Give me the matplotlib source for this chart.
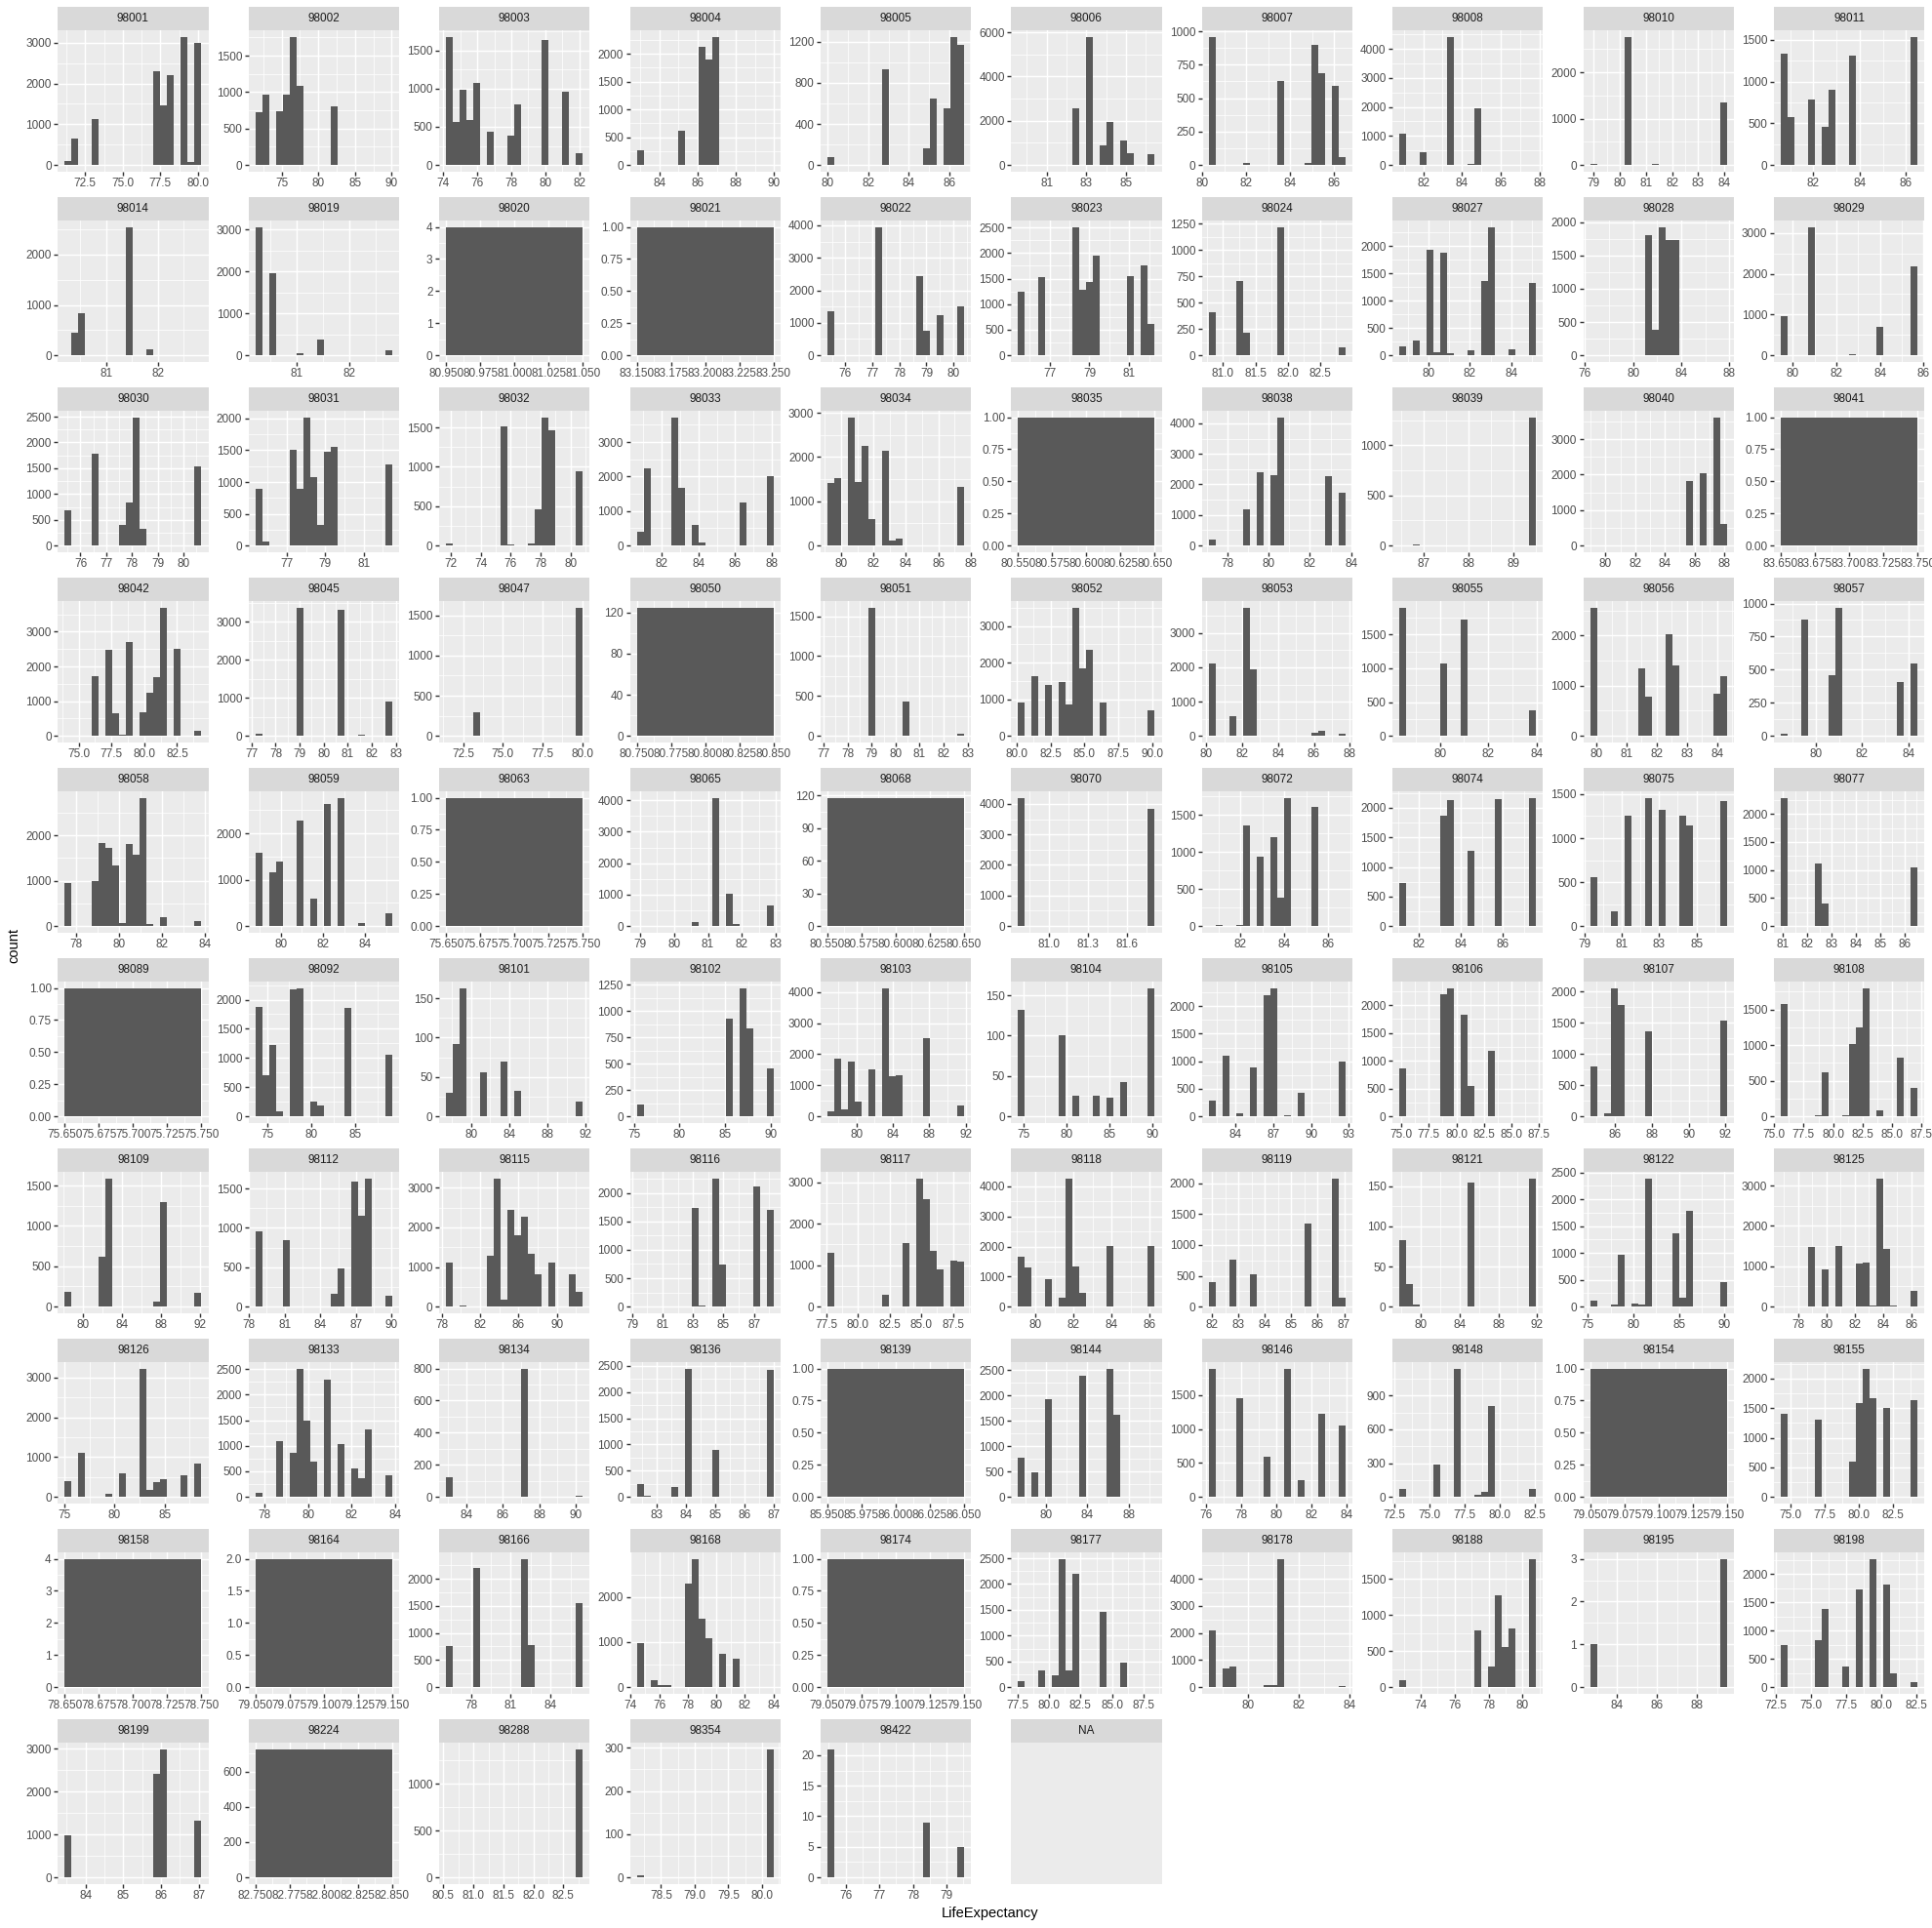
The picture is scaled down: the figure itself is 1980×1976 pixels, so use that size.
import numpy as np
import matplotlib.pyplot as plt

plt.rcParams['font.family'] = ['Liberation Sans', 'DejaVu Sans']

zipcodes = ['98001', '98002', '98003', '98004', '98005', '98006', '98007', '98008', '98010', '98011',
            '98014', '98019', '98020', '98021', '98022', '98023', '98024', '98027', '98028', '98029',
            '98030', '98031', '98032', '98033', '98034', '98035', '98038', '98039', '98040', '98041',
            '98042', '98045', '98047', '98050', '98051', '98052', '98053', '98055', '98056', '98057',
            '98058', '98059', '98063', '98065', '98068', '98070', '98072', '98074', '98075', '98077',
            '98089', '98092', '98101', '98102', '98103', '98104', '98105', '98106', '98107', '98108',
            '98109', '98112', '98115', '98116', '98117', '98118', '98119', '98121', '98122', '98125',
            '98126', '98133', '98134', '98136', '98139', '98144', '98146', '98148', '98154', '98155',
            '98158', '98164', '98166', '98168', '98174', '98177', '98178', '98188', '98195', '98198',
            '98199', '98224', '98288', '98354', '98422', 'NA']

# life expectancy values (one per histogram bar) and the number of houses at each
life_exp = [
    [71.37, 71.82, 73.19, 77.27, 77.73, 78.18, 79.09, 79.55, 80.0],
    [71.9, 72.83, 74.69, 75.63, 76.56, 77.49, 82.15, 89.6],
    [74.36, 74.76, 75.16, 75.57, 75.97, 76.77, 77.98, 78.38, 79.99, 81.2, 82.0],
    [82.98, 85.13, 86.21, 86.57, 86.93, 89.8],
    [80.15, 82.85, 84.88, 85.22, 85.89, 86.23, 86.57],
    [79.72, 82.48, 83.17, 83.86, 84.21, 84.9, 85.24, 86.28],
    [80.44, 82.0, 83.55, 84.79, 85.11, 85.42, 86.04, 86.35],
    [80.95, 82.01, 83.41, 84.47, 84.82, 87.64],
    [78.99, 80.3, 81.35, 83.97],
    [80.74, 81.04, 81.92, 82.51, 82.81, 83.69, 86.35],
    [80.26, 80.39, 80.53, 81.45, 81.85, 82.78],
    [80.29, 80.55, 81.06, 81.45, 82.74],
    [81.0],
    [83.2],
    [75.46, 77.23, 78.75, 79.0, 79.51, 80.27],
    [75.58, 76.61, 78.33, 78.68, 79.02, 79.37, 81.09, 81.78, 82.12],
    [80.83, 81.25, 81.36, 81.89, 82.84],
    [78.76, 79.42, 80.08, 80.41, 80.74, 81.07, 82.07, 82.73, 83.06, 84.05, 85.04],
    [76.7, 81.25, 81.82, 82.38, 82.95, 83.52, 87.5],
    [79.6, 80.86, 82.74, 84.0, 85.57],
    [75.52, 76.58, 77.64, 77.91, 78.17, 78.44, 80.56],
    [75.54, 75.9, 77.32, 77.68, 78.03, 78.39, 78.75, 79.1, 79.46, 82.31],
    [71.9, 75.56, 76.02, 77.39, 77.85, 78.31, 78.77, 80.6],
    [80.83, 81.2, 82.69, 83.06, 83.81, 84.18, 86.41, 87.9],
    [79.37, 79.79, 80.63, 81.05, 81.48, 81.9, 82.74, 83.16, 83.58, 87.37],
    [80.6],
    [77.25, 78.91, 79.57, 80.24, 80.57, 82.9, 83.56],
    [86.53, 86.84, 89.43],
    [79.19, 85.64, 86.56, 87.48, 87.94],
    [83.7],
    [74.2, 76.28, 77.33, 77.85, 78.37, 78.89, 79.93, 80.45, 80.97, 81.5, 82.54, 84.1],
    [77.3, 79.01, 80.71, 81.56, 82.7],
    [71.64, 73.36, 79.82],
    [80.8],
    [77.3, 79.01, 80.43, 82.71],
    [80.34, 81.35, 82.36, 83.37, 83.88, 84.39, 84.89, 85.4, 86.41, 89.95],
    [80.33, 81.47, 82.24, 82.62, 86.05, 86.43, 87.57],
    [78.47, 80.16, 81.01, 83.83],
    [79.9, 81.49, 81.71, 82.39, 82.62, 83.98, 84.21],
    [78.64, 79.52, 80.7, 81.0, 83.65, 84.24],
    [77.63, 78.91, 79.23, 79.55, 79.87, 80.19, 80.51, 80.83, 81.14, 81.46, 82.1, 83.7],
    [78.95, 79.6, 79.92, 80.9, 81.55, 82.2, 82.85, 83.82, 85.12],
    [75.7],
    [79.0, 80.61, 81.22, 81.62, 81.82, 82.83],
    [80.6],
    [80.79, 81.79],
    [80.7, 81.01, 81.95, 82.26, 82.88, 83.51, 83.82, 84.13, 85.38, 86.63],
    [81.23, 83.19, 83.51, 84.49, 85.8, 87.43],
    [79.48, 80.58, 81.31, 82.41, 83.14, 84.24, 84.61, 86.44],
    [81.04, 82.45, 82.73, 86.4],
    [75.7],
    [74.08, 74.85, 75.62, 76.39, 77.94, 78.71, 80.25, 81.02, 84.1, 88.73],
    [77.72, 78.44, 79.15, 81.31, 83.46, 84.89, 91.35],
    [75.68, 85.41, 86.91, 87.65, 89.9],
    [77.19, 77.94, 78.69, 79.44, 80.19, 81.69, 83.19, 83.94, 84.7, 87.7, 91.45],
    [74.75, 79.52, 81.11, 83.5, 85.09, 86.68, 89.86],
    [82.13, 83.22, 84.31, 85.4, 86.48, 87.03, 88.12, 89.2, 92.47],
    [75.14, 78.86, 79.48, 80.72, 81.35, 83.21, 86.93],
    [84.85, 85.59, 85.96, 86.33, 87.81, 91.88],
    [75.85, 78.74, 79.32, 81.06, 81.64, 82.22, 82.8, 83.95, 85.69, 86.85],
    [78.45, 81.97, 82.67, 87.59, 88.29, 91.81],
    [78.82, 81.12, 85.15, 85.73, 86.88, 87.46, 88.03, 89.76],
    [78.81, 80.24, 83.09, 83.8, 84.51, 85.22, 85.94, 86.65, 87.36, 88.07, 89.5, 91.64, 92.35],
    [79.53, 83.12, 83.57, 84.47, 84.92, 87.16, 88.06],
    [77.87, 82.18, 83.8, 84.88, 85.41, 85.95, 86.49, 87.57, 88.11],
    [79.27, 79.63, 80.71, 81.43, 81.79, 82.15, 82.51, 83.94, 86.1],
    [82.01, 82.79, 83.56, 85.63, 86.66, 86.92],
    [78.14, 78.85, 79.55, 85.2, 91.55],
    [75.61, 77.86, 78.61, 80.11, 80.86, 81.61, 84.61, 85.36, 86.11, 89.86],
    [77.0, 78.93, 79.9, 80.87, 82.32, 82.8, 83.28, 83.76, 84.25, 84.73, 86.18],
    [75.34, 76.71, 79.45, 80.82, 82.88, 83.56, 84.25, 84.93, 86.99, 88.36],
    [77.73, 78.67, 79.3, 79.62, 79.93, 80.25, 80.88, 81.51, 82.14, 82.45, 82.77, 83.71],
    [83.06, 87.19, 90.2],
    [82.43, 82.66, 83.6, 84.07, 85.01, 86.88],
    [86.0],
    [77.63, 78.95, 80.27, 83.58, 86.22, 86.89, 90.19],
    [76.33, 77.89, 79.45, 80.63, 81.41, 82.58, 83.75],
    [73.1, 75.53, 76.99, 78.46, 78.94, 79.43, 82.35],
    [79.1],
    [74.56, 77.04, 79.53, 80.03, 80.52, 81.02, 82.01, 84.0],
    [78.7],
    [79.1],
    [76.38, 78.44, 82.05, 82.56, 86.17],
    [74.66, 75.62, 76.1, 76.58, 78.01, 78.49, 78.97, 79.45, 80.41, 81.36, 83.76],
    [79.1],
    [77.82, 79.44, 80.53, 81.07, 81.61, 82.15, 84.32, 85.94, 88.11],
    [78.59, 79.13, 79.4, 80.75, 81.02, 81.29, 83.72],
    [72.94, 77.38, 78.18, 78.58, 78.99, 79.39, 80.6],
    [82.82, 89.31],
    [73.1, 75.53, 76.02, 77.48, 78.45, 79.43, 80.4, 80.89, 82.35],
    [83.54, 85.89, 86.08, 86.98],
    [82.8],
    [80.6, 82.77],
    [78.19, 80.12],
    [75.56, 78.4, 79.42],
    [],
]

house_counts = [
    [100, 650, 1130, 2300, 1470, 2200, 3150, 80, 3000],
    [720, 970, 740, 970, 1760, 1090, 810, 3],
    [1680, 560, 990, 590, 1070, 440, 380, 790, 1640, 960, 160],
    [260, 620, 2120, 1900, 2310, 2],
    [80, 930, 160, 650, 550, 1250, 1170],
    [2, 2550, 5800, 900, 1950, 1100, 530, 490],
    [960, 15, 630, 15, 900, 690, 590, 60],
    [1080, 440, 4420, 30, 1940, 2],
    [15, 2770, 15, 1340],
    [1340, 570, 780, 460, 900, 1310, 1540],
    [2, 450, 840, 2550, 120, 2],
    [3060, 1960, 60, 370, 130],
    [4],
    [1],
    [1360, 3950, 2450, 760, 1240, 1500],
    [1240, 1520, 2510, 1290, 1430, 1950, 1540, 1760, 620],
    [410, 710, 215, 1220, 75],
    [170, 270, 1940, 50, 1870, 30, 90, 1360, 2350, 110, 1330],
    [2, 1810, 380, 1930, 1740, 1740, 2],
    [970, 3150, 20, 690, 2180],
    [680, 1790, 400, 830, 2490, 330, 1530],
    [900, 70, 1510, 900, 2020, 1070, 330, 1480, 1560, 1270],
    [30, 1510, 15, 30, 460, 1630, 1460, 940],
    [400, 2240, 3720, 1670, 590, 100, 1250, 2000],
    [1420, 1530, 2900, 1440, 2260, 590, 2150, 120, 160, 1330],
    [1],
    [190, 1200, 2390, 2300, 4200, 2270, 1730],
    [1, 10, 1280],
    [2, 1830, 2050, 3620, 600],
    [1],
    [2, 1710, 2490, 650, 30, 2690, 680, 1230, 1700, 3700, 2510, 150],
    [50, 3370, 3300, 30, 900],
    [2, 290, 1600],
    [125],
    [2, 1610, 430, 30],
    [920, 1620, 1400, 1460, 850, 3510, 1850, 2360, 900, 710],
    [2100, 560, 3750, 1930, 100, 150, 60],
    [1900, 1070, 1720, 380],
    [2560, 1340, 780, 2030, 1410, 830, 1180],
    [15, 880, 460, 970, 410, 550],
    [950, 1000, 1840, 1720, 1330, 70, 1800, 1580, 2830, 40, 200, 100],
    [1590, 1170, 1400, 2280, 590, 2640, 2770, 60, 280],
    [1],
    [2, 130, 4080, 1040, 60, 640],
    [118],
    [4200, 3850],
    [2, 10, 15, 1360, 930, 1200, 380, 1730, 1610, 2],
    [730, 1860, 2130, 1270, 2150, 2170],
    [560, 170, 1260, 1460, 1320, 1260, 1140, 1420],
    [2290, 1120, 410, 1050],
    [1],
    [1870, 710, 1230, 80, 2170, 2200, 260, 190, 1860, 1060],
    [30, 92, 163, 56, 70, 32, 19],
    [110, 930, 1220, 840, 460],
    [150, 1850, 220, 1770, 480, 1520, 4130, 1300, 1330, 2500, 350],
    [132, 100, 26, 26, 23, 42, 159],
    [290, 1100, 60, 880, 2200, 2330, 20, 430, 990],
    [860, 2200, 2310, 1820, 550, 1180, 2],
    [800, 50, 2060, 1780, 1370, 1530],
    [1580, 15, 620, 20, 1020, 1250, 1800, 80, 820, 400],
    [180, 620, 1590, 60, 1290, 170],
    [960, 840, 160, 480, 1590, 1150, 1630, 140],
    [1120, 30, 1280, 3240, 170, 2450, 1790, 2280, 1340, 810, 1100, 810, 370],
    [2, 1730, 20, 2260, 740, 2110, 1710],
    [1300, 280, 1530, 3100, 2600, 1350, 900, 1120, 1090],
    [1660, 1290, 910, 310, 4270, 1340, 470, 2020, 2020],
    [400, 760, 520, 1350, 2080, 140],
    [83, 28, 2, 155, 160],
    [120, 40, 970, 50, 30, 2390, 1370, 160, 1780, 450],
    [2, 1480, 920, 1500, 1060, 1080, 20, 3180, 1420, 20, 390],
    [400, 1110, 80, 600, 3230, 180, 380, 450, 550, 840],
    [70, 1090, 860, 2510, 1500, 680, 2290, 1030, 560, 360, 1310, 430],
    [120, 800, 5],
    [250, 20, 190, 2450, 900, 2430],
    [1],
    [780, 490, 1920, 2380, 2530, 1620, 2],
    [1880, 1450, 590, 1890, 250, 1220, 1050],
    [70, 290, 1140, 20, 45, 810, 70],
    [1],
    [1400, 1300, 590, 1580, 2170, 1660, 1510, 1640],
    [4],
    [2],
    [760, 2200, 2370, 780, 1560],
    [970, 150, 50, 50, 2290, 2850, 1520, 1090, 730, 640, 2],
    [1],
    [120, 330, 230, 2490, 330, 2190, 1460, 480, 2],
    [2080, 690, 760, 70, 70, 4740, 30],
    [90, 780, 280, 1270, 550, 820, 1780],
    [1, 3],
    [750, 830, 1380, 370, 1730, 2270, 1810, 250, 80],
    [970, 2410, 2990, 1330],
    [727],
    [2, 1370],
    [5, 297],
    [21, 9, 5],
    [],
]


def extended_breaks(dmin, dmax, m=5, Q=(1, 5, 2, 2.5, 4, 3), w=(0.25, 0.2, 0.5, 0.05)):
    # Wilkinson's extended algorithm, as used by ggplot's default axis breaks
    eps = 1e-10
    n = len(Q)
    rng = dmax - dmin
    best, best_score = None, -2
    j = 1
    done = False
    while not done:
        for i, q in enumerate(Q):
            sm = 2 - i / (n - 1) - j
            if w[0] * sm + w[1] + w[2] + w[3] < best_score:
                done = True
                break
            k = 2
            while True:
                dm = 2 - (k - 1) / (m - 1) if k >= m else 1
                if w[0] * sm + w[1] + w[2] * dm + w[3] < best_score:
                    break
                delta = rng / (k + 1) / j / q
                z = int(np.ceil(np.log10(delta)))
                while True:
                    step = j * q * 10.0 ** z
                    span = step * (k - 1)
                    if span > rng:
                        half = (span - rng) / 2
                        cm = 1 - 0.5 * (2 * half ** 2) / (0.1 * rng) ** 2
                    else:
                        cm = 1
                    if w[0] * sm + w[1] * cm + w[2] * dm + w[3] < best_score:
                        break
                    min_start = int(np.floor(dmax / step) * j - (k - 1) * j)
                    max_start = int(np.ceil(dmin / step) * j)
                    for start in range(min_start, max_start + 1):
                        lmin = start * (step / j)
                        lmax = lmin + step * (k - 1)
                        md = lmin % step
                        v = 1 if ((md < eps or step - md < eps) and lmin <= 0 <= lmax) else 0
                        s = 1 - i / (n - 1) - j + v
                        c = 1 - 0.5 * ((dmax - lmax) ** 2 + (dmin - lmin) ** 2) / (0.1 * rng) ** 2
                        r = (k - 1) / (lmax - lmin)
                        rt = (m - 1) / (max(lmax, dmax) - min(dmin, lmin))
                        g = 2 - max(r / rt, rt / r)
                        score = w[0] * s + w[1] * c + w[2] * g + w[3]
                        if score > best_score:
                            best_score = score
                            best = (lmin, lmax, step)
                    z += 1
                k += 1
        j += 1
    lmin, lmax, step = best
    b = np.round(np.arange(lmin, lmax + step / 2, step), 10)
    return b[(b >= dmin - 1e-9) & (b <= dmax + 1e-9)]


def minor_breaks(b, lim):
    if len(b) < 2:
        return list(b)
    bd = b[1] - b[0]
    b = list(b)
    if lim[0] < b[0]:
        b = [b[0] - bd] + b
    if lim[1] > b[-1]:
        b = b + [b[-1] + bd]
    out = []
    for a, c in zip(b[:-1], b[1:]):
        out += [a, (a + c) / 2]
    out.append(b[-1])
    return [x for x in out if lim[0] <= x <= lim[1]]


def labels(b):
    for d in range(8):
        if all(abs(x * 10 ** d - round(x * 10 ** d)) < 1e-6 for x in b):
            break
    return [f"{x + 0.0:.{d}f}" for x in b]


def gg_bins(x, bins=20):
    lo, hi = min(x), max(x)
    if hi - lo < 1e-9:
        return np.array([lo - 0.05, lo + 0.05])
    w = (hi - lo) / (bins - 1)
    return lo - w / 2 + w * np.arange(bins + 1)


def expand(a, b):
    d = (b - a) * 0.05
    return a - d, b + d


W, H = 1980, 1976
fig = plt.figure(figsize=(W / 100, H / 100), dpi=100)

col_x0, col_dx, panel_w = 59.3, 195.4, 154.2
row_y0, row_dy, strip_h, panel_h = 7.3, 195.0, 23.7, 144.7

for n, (zc, vals, cnts) in enumerate(zip(zipcodes, life_exp, house_counts)):
    r, c = divmod(n, 10)
    left = col_x0 + c * col_dx
    top = row_y0 + r * row_dy

    sax = fig.add_axes([left / W, 1 - (top + strip_h) / H, panel_w / W, strip_h / H])
    sax.set_facecolor('#D9D9D9')
    sax.set_xticks([])
    sax.set_yticks([])
    for sp in sax.spines.values():
        sp.set_visible(False)
    sax.text(0.5, 0.5, zc, ha='center', va='center', fontsize=8.45,
             color='#1A1A1A', transform=sax.transAxes)

    ax = fig.add_axes([left / W, 1 - (top + strip_h + panel_h) / H, panel_w / W, panel_h / H])
    ax.set_facecolor('#EBEBEB')
    for sp in ax.spines.values():
        sp.set_visible(False)
    if not vals:
        ax.set_xticks([])
        ax.set_yticks([])
        continue

    edges = gg_bins(vals)
    heights, _, _ = ax.hist(vals, bins=edges, weights=cnts, color='#595959',
                            linewidth=0, zorder=2)
    xlim = expand(edges[0], edges[-1])
    ylim = expand(0, heights.max())

    for axis, lim in ((ax.xaxis, xlim), (ax.yaxis, ylim)):
        br = extended_breaks(*lim)
        axis.set_ticks(br)
        axis.set_ticklabels(labels(br))
        axis.set_ticks(minor_breaks(br, lim), minor=True)
    ax.set_xlim(xlim)
    ax.set_ylim(ylim)

    ax.set_axisbelow(True)
    ax.grid(which='major', color='white', linewidth=1.02)
    ax.grid(which='minor', color='white', linewidth=0.51)
    ax.tick_params(which='major', direction='out', length=2.64, width=1.02,
                   color='#333333', labelsize=8.45, labelcolor='#4D4D4D', pad=2.1)
    ax.tick_params(which='minor', length=0)

fig.text(1015 / W, 1 - 1961 / H, 'LifeExpectancy', ha='center', va='center', fontsize=10.56)
fig.text(14.5 / W, 1 - 969 / H, 'count', ha='center', va='center', rotation=90, fontsize=10.56)

fig.savefig('out.png', dpi=100, facecolor='white')
